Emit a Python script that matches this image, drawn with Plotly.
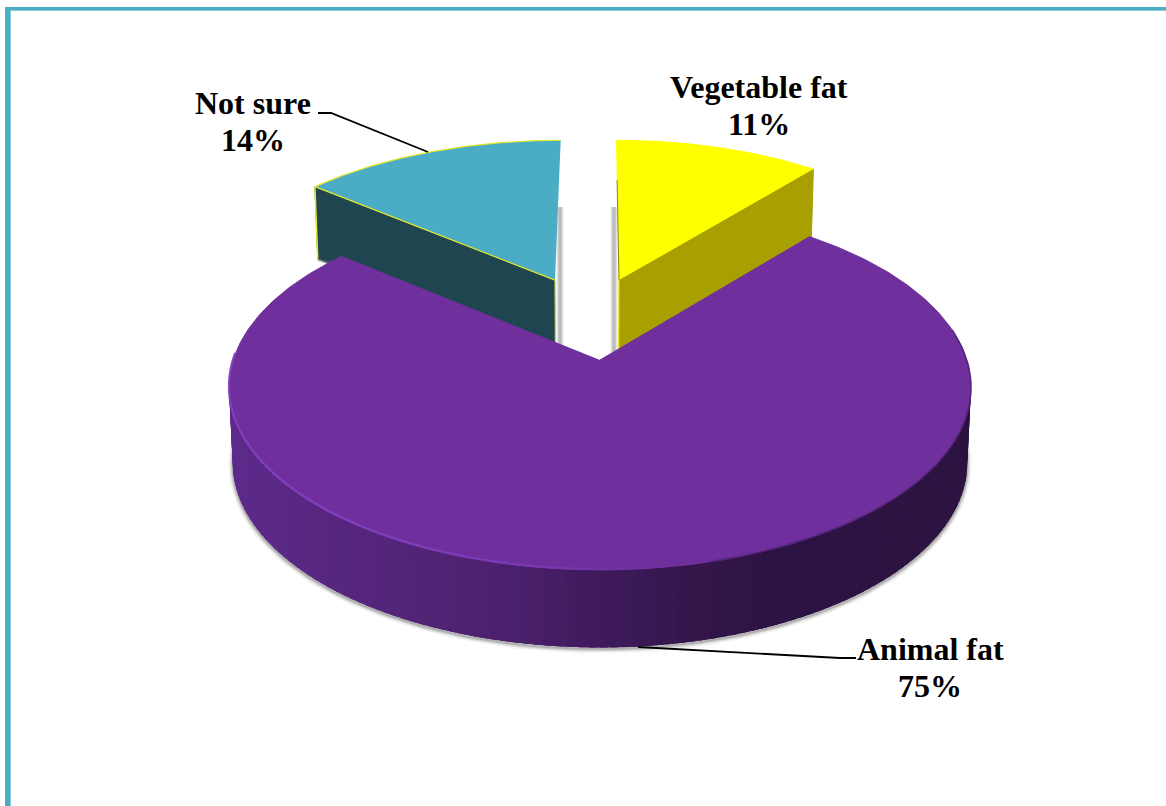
import numpy as np
import plotly.graph_objects as go

# Chart data
categories = ["Vegetable fat", "Animal fat", "Not sure"]
shares = [11, 75, 14]

# Slice styling: top face, wall face, pull-out offset and reach on the disc
top_colors = ["#FFFF00", "#6F2F9D", "#4BACC6"]
wall_colors = ["#A8A000", "#2C1342", "#1F4650"]
explode = [(0.0555, 0.48), (0.0, 0.0), (-0.1315, 0.48)]
reach = [(1.0, 1.03), (1.0, 1.0), (1.01, 1.03)]

# Camera model of the tilted disc, in page pixels
CX, CY = 600.0, 360.0
FX, FY = 366.8, 178.5
PERSP = 0.15
FRAME = "#4BACC6"
RIM = "#8240BE"


def project(u, v, lower=False):
    """Map disc coordinates (u right, v away from viewer) to the page."""
    u, v = np.asarray(u, float), np.asarray(v, float)
    w = 1 + PERSP * v
    x = FX * u / w
    y = CY - FY * v / w
    if lower:
        x = x * 0.99
        y = y + 75 - 2.5 * v
    return CX + x, y


def ring(a0, a1, off=(0, 0), r=(1, 1), n=120):
    t = np.radians(np.linspace(a0, a1, n))
    return off[0] + r[0] * np.sin(t), off[1] + r[1] * np.cos(t)


def blend(c0, c1, f):
    a = [int(c0[i:i + 2], 16) for i in (1, 3, 5)]
    b = [int(c1[i:i + 2], 16) for i in (1, 3, 5)]
    return "#" + "".join(f"{round(p + (q - p) * f):02x}" for p, q in zip(a, b))


fig = go.Figure()


def poly(x, y, color, line=None, lw=1.0):
    fig.add_trace(go.Scatter(
        x=list(x), y=list(y), mode="lines", fill="toself", fillcolor=color,
        line=dict(color=line or color, width=lw), hoverinfo="skip", showlegend=False))


def stroke(x, y, color, width, opacity=1.0):
    fig.add_trace(go.Scatter(
        x=list(x), y=list(y), mode="lines", opacity=opacity,
        line=dict(color=color, width=width), hoverinfo="skip", showlegend=False))


# Slice angles, clockwise from the far side of the disc
edges = np.concatenate([[0], np.cumsum(shares)]) * 3.6
span = {c: (edges[i], edges[i + 1]) for i, c in enumerate(categories)}


def exploded_slice(i, wall_at_start):
    a0, a1 = edges[i], edges[i + 1]
    off = explode[i]
    tip = project(off[0], off[1])
    tip_low = project(off[0], off[1], lower=True)
    ru, rv = ring(a0, a1, off, reach[i])
    rx, ry = project(ru, rv)
    # Soft cast shadow beside the inner vertical edge
    side = 1 if wall_at_start else -1
    sx = tip[0] + side * 5
    for w, o in ((7, 0.12), (5, 0.18), (3, 0.25)):
        stroke([sx, sx], [207, tip_low[1] + 4], "#6F6F6F", w, o)
    # Wall on the cut face that faces the viewer
    e = 0 if wall_at_start else -1
    ex, ey = project(ru[e], rv[e])
    lx, ly = project(ru[e], rv[e], lower=True)
    poly([tip[0], ex, lx, tip_low[0]], [tip[1], ey, ly, tip_low[1]], wall_colors[i])
    return tip, rx, ry, (ex, ey, lx, ly), tip_low


# "Not sure" slice, back left
tip, rx, ry, (ex, ey, lx, ly), tip_low = exploded_slice(2, True)
stroke([lx, lx + 18], [ly + 1, ly + 6], "#777777", 3, 0.45)
poly(np.r_[tip[0], rx], np.r_[tip[1], ry], top_colors[2], line="#E6E82A", lw=1.2)
stroke([ex, lx], [ey, ly], "#E6E82A", 1.5)
stroke([tip[0], tip_low[0]], [tip[1], tip_low[1]], "#C9D23A", 1.2)

# "Vegetable fat" slice, back right
tip, rx, ry, (ex, ey, lx, ly), tip_low = exploded_slice(0, False)
poly(np.r_[tip[0], rx], np.r_[tip[1], ry], top_colors[0])
stroke([tip[0], tip_low[0]], [tip[1], tip_low[1]], "#E0E000", 1.2)
stroke([rx[0] + 0.5, tip[0]], [ry[0] + 40, tip[1]], "#6E6A10", 1.0, 0.8)

# "Animal fat" soft ground shadow under the front wall
a0, a1 = span["Animal fat"]
fu, fv = ring(90, 270, n=200)
bx, by = project(fu, fv, lower=True)
for w, o in ((9, 0.07), (6, 0.12), (4, 0.18), (2, 0.25)):
    stroke(bx, by + 1.5, "#666666", w, o)

# Front wall, shaded across its width; each strip overlaps the next to hide seams
wall_x = [232, 330, 420, 510, 600, 690, 770, 966]
wall_c = ["#5D2A8B", "#57277F", "#522476", "#4A206C", "#3F1A5C", "#34164B", "#2D1343", "#2C1342"]
tt = np.linspace(270, 90, 121)
for k, (a, b) in enumerate(zip(tt[:-1], tt[1:])):
    stop = max(b - 2.5, 90)
    su, sv = ring(a, stop, n=6)
    ux, uy = project(su, sv)
    dx, dy = project(su, sv, lower=True)
    mid_u, mid_v = ring(a, b, n=2)
    xm = project(mid_u, mid_v)[0].mean()
    j = int(np.clip(np.searchsorted(wall_x, xm) - 1, 0, len(wall_x) - 2))
    f = np.clip((xm - wall_x[j]) / (wall_x[j + 1] - wall_x[j]), 0, 1)
    col = blend(wall_c[j], wall_c[j + 1], f)
    fig.add_trace(go.Scatter(
        x=list(np.r_[ux, dx[::-1]]), y=list(np.r_[uy, dy[::-1]]), mode="lines",
        fill="toself", fillcolor=col, line=dict(width=0), hoverinfo="skip", showlegend=False))

# Top face of the large slice
ru, rv = ring(a0, a1, n=360)
rx, ry = project(ru, rv)
poly(np.r_[CX, rx], np.r_[CY, ry], top_colors[1])

# Bevel highlight along the near-left rim, fading toward the right
tr = np.linspace(272, 155, 118)
for a, b in zip(tr[:-1], tr[1:]):
    su, sv = ring(a, b, n=3)
    hx, hy = project(su, sv)
    f = np.clip((hx.mean() - 300) / 360, 0, 1)
    stroke(hx, hy - 1, blend(RIM, top_colors[1], f ** 2), 2.2)

# Soft dark edge on the right-hand rim
su, sv = ring(165, 80, n=80)
hx, hy = project(su, sv)
stroke(hx, hy, "#4E2272", 1.6, 0.8)

# Leader lines
stroke([318, 331, 428], [113, 113, 152], "#000000", 1.8)
stroke([638, 840, 856], [647, 658, 658], "#000000", 1.8)

# Two-line labels: name above share
label_at = {"Vegetable fat": (759, 87), "Animal fat": (930, 649), "Not sure": (253, 103)}
LINE_STEP = 37
annotations = []
for name, value in zip(categories, shares):
    x, y = label_at[name]
    for k, text in enumerate((name, f"{value}%")):
        annotations.append(dict(
            x=x, y=y + k * LINE_STEP, xref="x", yref="y", text=f"<b>{text}</b>",
            showarrow=False, xanchor="center", yanchor="middle",
            font=dict(family="Liberation Serif", size=32, color="#000000")))

# Page frame: top and left bars only
shapes = [
    dict(type="rect", xref="x", yref="y", x0=5, x1=1166, y0=7, y1=10,
         fillcolor=FRAME, line_width=0, layer="below"),
    dict(type="rect", xref="x", yref="y", x0=5, x1=10, y0=7, y1=806,
         fillcolor=FRAME, line_width=0, layer="below"),
    dict(type="rect", xref="x", yref="y", x0=10, x1=1166, y0=10, y1=11,
         fillcolor="#8CCBDB", line_width=0, layer="below"),
    dict(type="rect", xref="x", yref="y", x0=10, x1=11, y0=10, y1=806,
         fillcolor="#8CCBDB", line_width=0, layer="below"),
]

fig.update_layout(
    width=1166, height=806, margin=dict(l=0, r=0, t=0, b=0),
    paper_bgcolor="#FFFFFF", plot_bgcolor="#FFFFFF", showlegend=False,
    xaxis=dict(range=[0, 1166], visible=False, fixedrange=True),
    yaxis=dict(range=[806, 0], visible=False, fixedrange=True),
    annotations=annotations, shapes=shapes,
)

fig.write_html("out.html", config={"displayModeBar": False})
